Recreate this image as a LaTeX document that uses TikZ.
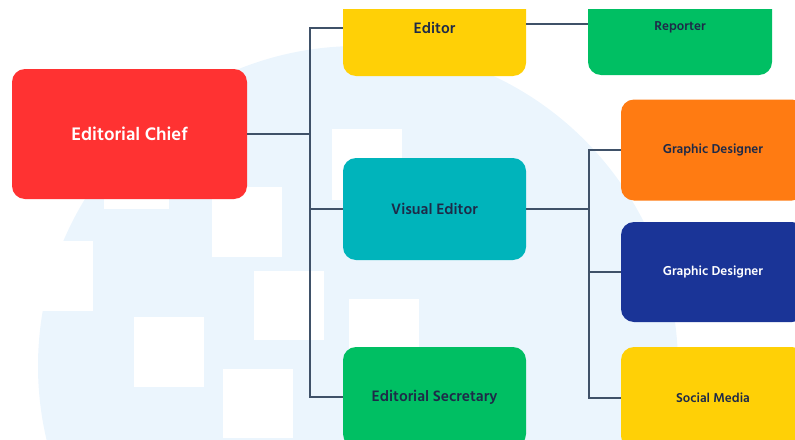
\documentclass[tikz,border=0pt]{standalone}
\usepackage{fontspec}
\setmainfont{Hind Siliguri}
\definecolor{cred}{HTML}{FF3232}
\definecolor{cyel}{HTML}{FFD006}
\definecolor{cgrn}{HTML}{00BF63}
\definecolor{cteal}{HTML}{00B4BB}
\definecolor{corg}{HTML}{FF7B12}
\definecolor{cnavy}{HTML}{1A3497}
\definecolor{cbg}{HTML}{EBF5FD}
\definecolor{ctxt}{HTML}{1E2A48}
\definecolor{cline}{HTML}{3F5168}
\begin{document}
\begin{tikzpicture}[x=1pt,y=-1pt,
  box/.style={rectangle,rounded corners=13pt,inner sep=0pt,anchor=center,font=\bfseries,text=ctxt},
  lvl2/.style={box,minimum width=183pt,font=\bfseries\fontsize{15.5}{17}\selectfont},
  lvl3/.style={box,minimum width=184pt,font=\bfseries\fontsize{13.2}{15}\selectfont},
  conn/.style={draw=cline,line width=1.8pt},
  sq/.style={fill=white}]
\useasboundingbox (0,0) rectangle (795,439);
\begin{scope}
\clip (0,9) rectangle (795,439);
% background circle and squares
\fill[cbg] (358,366) circle[radius=320];
\fill[sq] (332,129) rectangle (402,200);
\fill[sq] (104,140) rectangle (169,209);
\fill[sq] (212,187) rectangle (282,257);
\fill[sq] (23,241) rectangle (93,311);
\fill[sq] (254,271) rectangle (324,340);
\fill[sq] (134,317) rectangle (204,387);
\fill[sq] (223,369) rectangle (293,438);
\fill[sq] (349,299) rectangle (419,369);
% nodes
\node[box,fill=cred,minimum width=235pt,minimum height=130pt,text=white,font=\bfseries\fontsize{18.6}{20}\selectfont] (root) at (129.5,134) {Editorial Chief};
\node[lvl2,fill=cyel,minimum height=96pt] (editor) at (434.5,28) {Editor};
\node[lvl3,fill=cgrn,minimum height=96pt] (rep) at (680,27) {Reporter};
\node[lvl2,fill=cteal,minimum height=102pt] (vis) at (434.5,209) {Visual Editor};
\node[lvl2,fill=cgrn,minimum height=100pt] (sec) at (434.5,397) {Editorial Secretary};
\node[lvl3,fill=corg,minimum height=101pt] (gd1) at (713,150) {Graphic Designer};
\node[lvl3,fill=cnavy,minimum height=100pt,text=white] (gd2) at (713,272) {Graphic Designer};
\node[lvl3,fill=cyel,minimum height=102pt] (soc) at (713,398) {Social Media};
% connectors
\coordinate (j1) at (310,134);
\coordinate (j2) at (589,210);
\draw[conn] (root.east) -- (j1);
\draw[conn] (editor.west) -| (j1) |- (sec.west);
\draw[conn] (j1 |- vis.west) -- (vis.west);
\draw[conn] ([yshift=3pt]rep.west) -- ([yshift=3pt]rep.west -| editor.east);
\draw[conn] (vis.east) -- (vis.east -| j2);
\draw[conn] (gd1.west) -| (j2) |- (soc.west);
\draw[conn] (j2 |- gd2.west) -- (gd2.west);
\end{scope}
\end{tikzpicture}
\end{document}
